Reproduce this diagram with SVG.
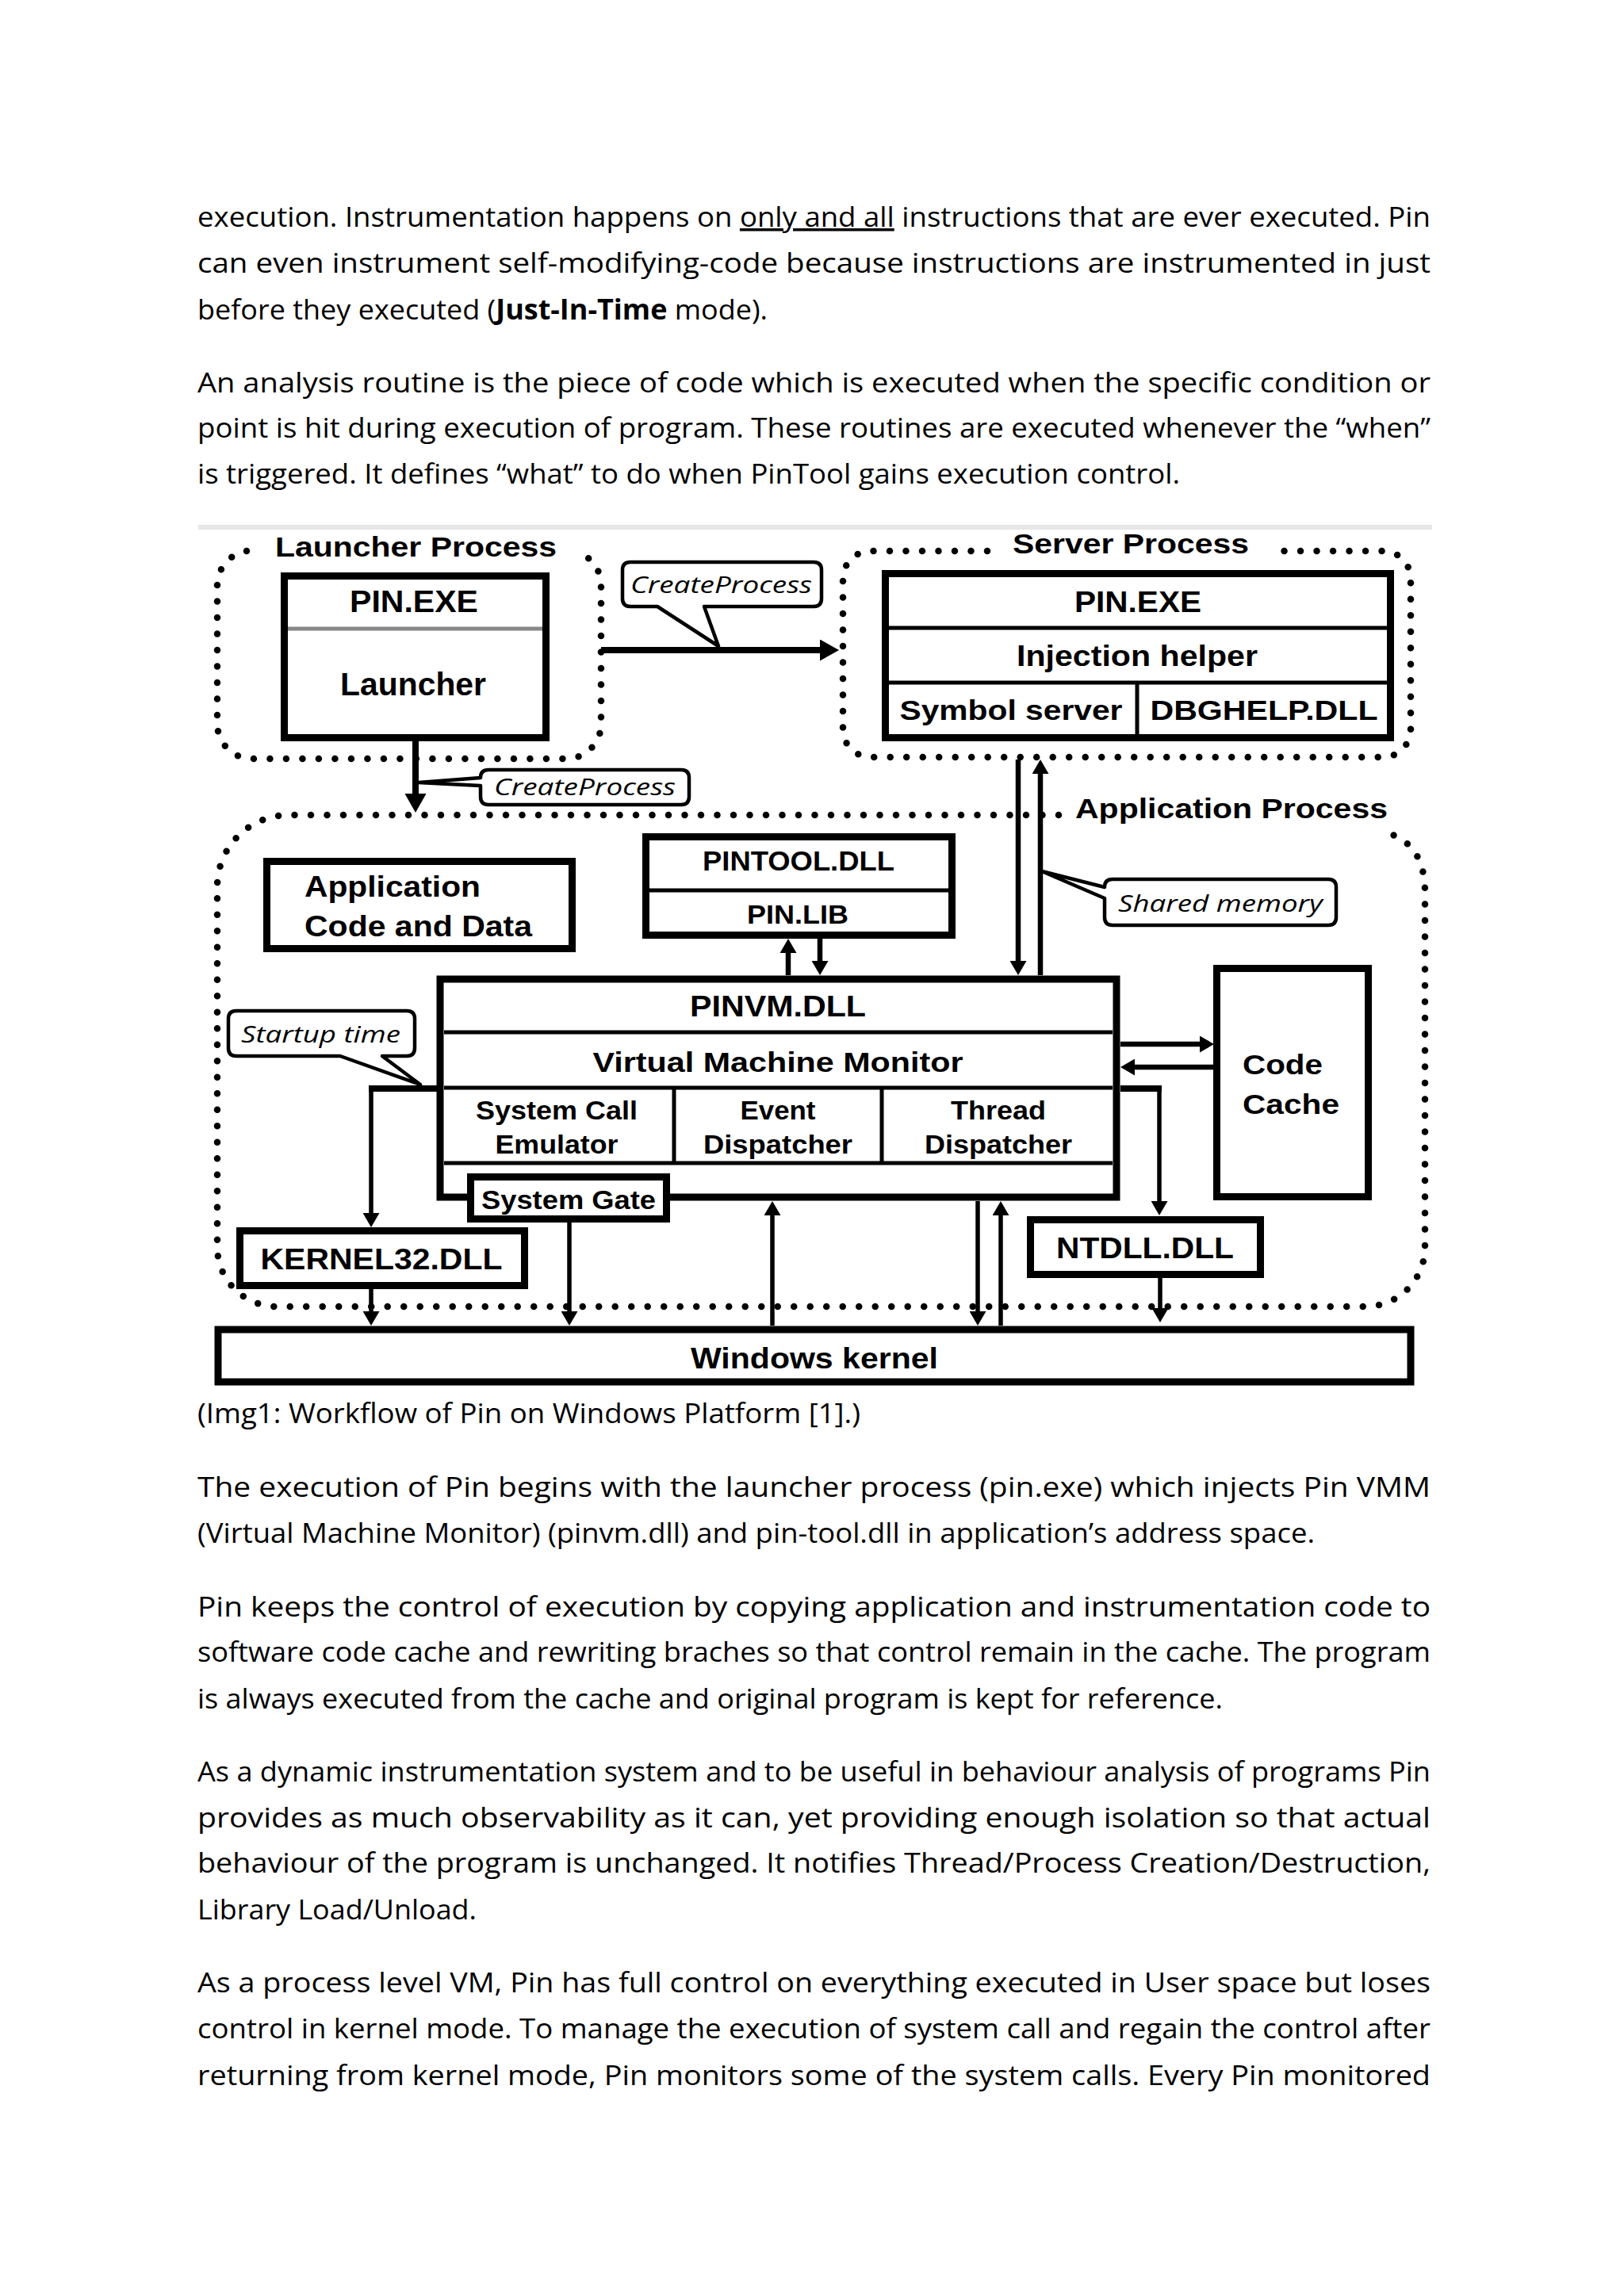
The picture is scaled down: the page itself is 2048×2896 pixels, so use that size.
<svg xmlns="http://www.w3.org/2000/svg" width="2048" height="2896" viewBox="0 0 2048 2896">
<defs>
<style>
.body{font-family:"Open Sans","Liberation Sans",sans-serif;font-size:35px;fill:#000}
.lbl{font-family:"Liberation Sans",Arial,sans-serif;font-weight:bold;fill:#000}
.call{font-family:"Open Sans","Liberation Sans",sans-serif;font-style:italic;font-size:29px;fill:#000}
.box{fill:#fff;stroke:#000;stroke-width:9}
.dv{stroke:#000;stroke-width:5;fill:none}
.dots{fill:none;stroke:#000;stroke-width:8.5;stroke-dasharray:0 20.5;stroke-linecap:round}
.cbox{fill:#fff;stroke:#000;stroke-width:4.5;stroke-linejoin:round}
.c{stroke:#000;fill:none;stroke-width:5.5}
.c6{stroke:#000;fill:none;stroke-width:6.5}
.c8{stroke:#000;fill:none;stroke-width:8}
</style>
<marker id="ah" markerUnits="userSpaceOnUse" markerWidth="18" markerHeight="21" viewBox="0 0 18 21" refX="10" refY="10.5" orient="auto"><path d="M0,0 L18,10.5 L0,21 Z" fill="#000"/></marker>
<marker id="ahb" markerUnits="userSpaceOnUse" markerWidth="24" markerHeight="27" viewBox="0 0 24 27" refX="14" refY="13.5" orient="auto"><path d="M0,0 L24,13.5 L0,27 Z" fill="#000"/></marker>
</defs>
<rect width="2048" height="2896" fill="#fff"/>

<g id="body-text-top">
<text class="body" x="249" y="286" textLength="1555" lengthAdjust="spacingAndGlyphs">execution. Instrumentation happens on <tspan text-decoration="underline">only and all</tspan> instructions that are ever executed. Pin</text>
<text class="body" x="249" y="344" textLength="1555" lengthAdjust="spacingAndGlyphs">can even instrument self-modifying-code because instructions are instrumented in just</text>
<text class="body" x="249" y="403" textLength="719" lengthAdjust="spacingAndGlyphs">before they executed (<tspan font-weight="bold">Just-In-Time</tspan> mode).</text>
<text class="body" x="249" y="495" textLength="1555" lengthAdjust="spacingAndGlyphs">An analysis routine is the piece of code which is executed when the specific condition or</text>
<text class="body" x="249" y="552" textLength="1555" lengthAdjust="spacingAndGlyphs">point is hit during execution of program.  These routines are executed whenever the “when”</text>
<text class="body" x="249" y="610" textLength="1239" lengthAdjust="spacingAndGlyphs">is triggered. It defines “what” to do when PinTool gains execution control.</text>
</g>

<line x1="250" y1="665" x2="1806" y2="665" stroke="#e6e6e6" stroke-width="6"/>

<g id="launcher-process">
<path class="dots" d="M311,695 A44,44 0 0 0 274,739 L274,913 A44,44 0 0 0 318,957 L714,957 A44,44 0 0 0 758,913 L758,739 A44,44 0 0 0 730,697"/>
<text class="lbl" x="347" y="702" font-size="35" textLength="355" lengthAdjust="spacingAndGlyphs">Launcher Process</text>
</g>
<g id="server-process">
<path class="dots" d="M1245,695 L1098,695 A35,35 0 0 0 1063,730 L1063,920 A35,35 0 0 0 1098,955 L1744,955 A35,35 0 0 0 1779,920 L1779,730 A35,35 0 0 0 1744,695 L1609,695"/>
<text class="lbl" x="1277" y="698" font-size="35" textLength="298" lengthAdjust="spacingAndGlyphs">Server Process</text>
</g>
<g id="application-process">
<path class="dots" d="M1335,1028 L364,1028 A90,90 0 0 0 274,1118 L274,1573 A75,75 0 0 0 349,1648 L1722,1648 A75,75 0 0 0 1797,1573 L1797,1125 Q1797,1068 1754,1052"/>
<text class="lbl" x="1356" y="1032" font-size="35" textLength="394" lengthAdjust="spacingAndGlyphs">Application Process</text>
</g>

<g id="connectors">
<line class="c8" x1="758" y1="820" x2="1048" y2="820" marker-end="url(#ahb)"/>
<line class="c8" x1="524" y1="935" x2="524" y2="1015" marker-end="url(#ahb)"/>
<line class="c6" x1="1284" y1="958" x2="1284" y2="1222" marker-end="url(#ah)"/>
<line class="c6" x1="1312" y1="1230" x2="1312" y2="966" marker-end="url(#ah)"/>
<line class="c6" x1="994" y1="1230" x2="994" y2="1192" marker-end="url(#ah)"/>
<line class="c6" x1="1034" y1="1184" x2="1034" y2="1222" marker-end="url(#ah)"/>
<line class="c6" x1="1413" y1="1317" x2="1523" y2="1317" marker-end="url(#ah)"/>
<line class="c6" x1="1531" y1="1346" x2="1421" y2="1346" marker-end="url(#ah)"/>
<line class="c8" x1="551" y1="1373" x2="465" y2="1373"/>
<line class="c" x1="468" y1="1370" x2="468" y2="1540" marker-end="url(#ah)"/>
<line class="c8" x1="1413" y1="1373" x2="1465" y2="1373"/>
<line class="c" x1="1462" y1="1370" x2="1462" y2="1525" marker-end="url(#ah)"/>
<line class="c" x1="468" y1="1626" x2="468" y2="1664" marker-end="url(#ah)"/>
<line class="c" x1="718" y1="1540" x2="718" y2="1664" marker-end="url(#ah)"/>
<line class="c" x1="718" y1="1467" x2="718" y2="1484"/>
<line class="c" x1="974" y1="1672" x2="974" y2="1523" marker-end="url(#ah)"/>
<line class="c" x1="1233" y1="1515" x2="1233" y2="1664" marker-end="url(#ah)"/>
<line class="c" x1="1262" y1="1672" x2="1262" y2="1523" marker-end="url(#ah)"/>
<line class="c" x1="1463" y1="1612" x2="1463" y2="1660" marker-end="url(#ah)"/>
</g>

<g id="launcher-pin-exe">
<rect class="box" x="358.5" y="726.5" width="330" height="204"/>
<line x1="363" y1="793" x2="684" y2="793" stroke="#888" stroke-width="5"/>
<text class="lbl" x="522" y="772" font-size="38" text-anchor="middle" textLength="162" lengthAdjust="spacingAndGlyphs">PIN.EXE</text>
<text class="lbl" x="521" y="877" font-size="40" text-anchor="middle" textLength="184" lengthAdjust="spacingAndGlyphs">Launcher</text>
</g>

<g id="server-pin-exe">
<rect class="box" x="1116.5" y="723.5" width="637" height="207"/>
<line class="dv" x1="1121" y1="792" x2="1749" y2="792"/>
<line class="dv" x1="1121" y1="861" x2="1749" y2="861"/>
<line class="dv" x1="1434" y1="861" x2="1434" y2="931"/>
<text class="lbl" x="1435" y="772" font-size="37" text-anchor="middle" textLength="160" lengthAdjust="spacingAndGlyphs">PIN.EXE</text>
<text class="lbl" x="1434" y="840" font-size="37" text-anchor="middle" textLength="304" lengthAdjust="spacingAndGlyphs">Injection helper</text>
<text class="lbl" x="1275" y="908" font-size="35" text-anchor="middle" textLength="281" lengthAdjust="spacingAndGlyphs">Symbol server</text>
<text class="lbl" x="1594" y="908" font-size="35" text-anchor="middle" textLength="287" lengthAdjust="spacingAndGlyphs">DBGHELP.DLL</text>
</g>

<g id="app-code-data">
<rect class="box" x="336.5" y="1086.5" width="385" height="110"/>
<text class="lbl" x="384" y="1131" font-size="37" textLength="222" lengthAdjust="spacingAndGlyphs">Application</text>
<text class="lbl" x="384" y="1181" font-size="36" textLength="287" lengthAdjust="spacingAndGlyphs">Code and Data</text>
</g>

<g id="pintool">
<rect class="box" x="814.5" y="1055.5" width="386" height="124"/>
<line class="dv" x1="819" y1="1123" x2="1196" y2="1123"/>
<text class="lbl" x="1007" y="1098" font-size="35" text-anchor="middle" textLength="242" lengthAdjust="spacingAndGlyphs">PINTOOL.DLL</text>
<text class="lbl" x="1006" y="1165" font-size="33" text-anchor="middle" textLength="128" lengthAdjust="spacingAndGlyphs">PIN.LIB</text>
</g>

<g id="pinvm">
<rect class="box" x="555" y="1235" width="853" height="275" stroke-width="10"/>
<line class="dv" x1="560" y1="1302" x2="1403" y2="1302"/>
<line class="dv" x1="560" y1="1372" x2="1403" y2="1372" stroke-width="6"/>
<line class="dv" x1="560" y1="1467" x2="1403" y2="1467"/>
<line class="dv" x1="850" y1="1372" x2="850" y2="1467"/>
<line class="dv" x1="1112" y1="1372" x2="1112" y2="1467"/>
<text class="lbl" x="981" y="1282" font-size="37" text-anchor="middle" textLength="222" lengthAdjust="spacingAndGlyphs">PINVM.DLL</text>
<text class="lbl" x="981" y="1352" font-size="35" text-anchor="middle" textLength="467" lengthAdjust="spacingAndGlyphs">Virtual Machine Monitor</text>
<text class="lbl" x="702" y="1412" font-size="33" text-anchor="middle" textLength="204" lengthAdjust="spacingAndGlyphs">System Call</text>
<text class="lbl" x="702" y="1455" font-size="33" text-anchor="middle" textLength="155" lengthAdjust="spacingAndGlyphs">Emulator</text>
<text class="lbl" x="981" y="1412" font-size="33" text-anchor="middle" textLength="95" lengthAdjust="spacingAndGlyphs">Event</text>
<text class="lbl" x="981" y="1455" font-size="33" text-anchor="middle" textLength="188" lengthAdjust="spacingAndGlyphs">Dispatcher</text>
<text class="lbl" x="1259" y="1412" font-size="33" text-anchor="middle" textLength="120" lengthAdjust="spacingAndGlyphs">Thread</text>
<text class="lbl" x="1259" y="1455" font-size="33" text-anchor="middle" textLength="186" lengthAdjust="spacingAndGlyphs">Dispatcher</text>
</g>

<g id="system-gate">
<rect class="box" x="593.5" y="1484.5" width="247" height="53" stroke-width="5"/>
<text class="lbl" x="717" y="1525" font-size="33" text-anchor="middle" textLength="220" lengthAdjust="spacingAndGlyphs">System Gate</text>
</g>

<g id="code-cache">
<rect class="box" x="1534.5" y="1221.5" width="191" height="288"/>
<text class="lbl" x="1567" y="1355" font-size="35" textLength="101" lengthAdjust="spacingAndGlyphs">Code</text>
<text class="lbl" x="1567" y="1405" font-size="35" textLength="122" lengthAdjust="spacingAndGlyphs">Cache</text>
</g>

<g id="kernel32">
<rect class="box" x="302.5" y="1552.5" width="359" height="69"/>
<text class="lbl" x="481" y="1601" font-size="36" text-anchor="middle" textLength="305" lengthAdjust="spacingAndGlyphs">KERNEL32.DLL</text>
</g>

<g id="ntdll">
<rect class="box" x="1299.5" y="1538.5" width="290" height="69"/>
<text class="lbl" x="1444" y="1587" font-size="37" text-anchor="middle" textLength="224" lengthAdjust="spacingAndGlyphs">NTDLL.DLL</text>
</g>

<g id="windows-kernel">
<rect class="box" x="275" y="1677" width="1504" height="66" stroke-width="10"/>
<text class="lbl" x="1027" y="1726" font-size="37" text-anchor="middle" textLength="312" lengthAdjust="spacingAndGlyphs">Windows kernel</text>
</g>

<g id="callout-createprocess-1">
<path class="cbox" d="M795,709 H1026 Q1036,709 1036,719 V755 Q1036,765 1026,765 H888 L906,815 L829,765 H795 Q785,765 785,755 V719 Q785,709 795,709 Z"/>
<text class="call" x="795" y="748" textLength="229" lengthAdjust="spacingAndGlyphs">CreateProcess</text>
</g>
<g id="callout-createprocess-2">
<path class="cbox" d="M616,971 H859 Q869,971 869,981 V1005 Q869,1015 859,1015 H616 Q606,1015 606,1005 V991 L528,987 L606,981 Q606,971 616,971 Z"/>
<text class="call" x="623" y="1003" textLength="229" lengthAdjust="spacingAndGlyphs">CreateProcess</text>
</g>
<g id="callout-startup-time">
<path class="cbox" d="M298,1275 H513 Q523,1275 523,1285 V1322 Q523,1332 513,1332 H482 L530,1368 L429,1332 H298 Q288,1332 288,1322 V1285 Q288,1275 298,1275 Z"/>
<text class="call" x="304" y="1315" textLength="201" lengthAdjust="spacingAndGlyphs">Startup time</text>
</g>
<g id="callout-shared-memory">
<path class="cbox" d="M1403,1109 H1675 Q1685,1109 1685,1119 V1157 Q1685,1167 1675,1167 H1403 Q1393,1167 1393,1157 V1133 L1314,1099 L1393,1119 Q1393,1109 1403,1109 Z"/>
<text class="call" x="1410" y="1150" textLength="258" lengthAdjust="spacingAndGlyphs">Shared memory</text>
</g>

<g id="body-text-bottom">
<text class="body" x="249" y="1795" textLength="836" lengthAdjust="spacingAndGlyphs">(Img1: Workflow of Pin on Windows Platform [1].)</text>
<text class="body" x="249" y="1888" textLength="1555" lengthAdjust="spacingAndGlyphs">The execution of Pin begins with the launcher process (pin.exe) which injects Pin VMM</text>
<text class="body" x="249" y="1946" textLength="1409" lengthAdjust="spacingAndGlyphs">(Virtual Machine Monitor) (pinvm.dll) and pin-tool.dll in application’s address space.</text>
<text class="body" x="249" y="2039" textLength="1555" lengthAdjust="spacingAndGlyphs">Pin keeps the control of execution by copying application and instrumentation code to</text>
<text class="body" x="249" y="2096" textLength="1555" lengthAdjust="spacingAndGlyphs">software code cache and rewriting braches so that control remain in the cache. The program</text>
<text class="body" x="249" y="2155" textLength="1293" lengthAdjust="spacingAndGlyphs">is always executed from the cache and original program is kept for reference.</text>
<text class="body" x="249" y="2247" textLength="1555" lengthAdjust="spacingAndGlyphs">As a dynamic instrumentation system and to be useful in behaviour analysis of programs Pin</text>
<text class="body" x="249" y="2305" textLength="1555" lengthAdjust="spacingAndGlyphs">provides as much observability as it can, yet providing enough isolation so that actual</text>
<text class="body" x="249" y="2362" textLength="1555" lengthAdjust="spacingAndGlyphs">behaviour of the program is unchanged. It notifies Thread/Process Creation/Destruction,</text>
<text class="body" x="249" y="2421" font-size="36" textLength="352" lengthAdjust="spacingAndGlyphs">Library Load/Unload.</text>
<text class="body" x="249" y="2513" textLength="1555" lengthAdjust="spacingAndGlyphs">As a process level VM, Pin has full control on everything executed in User space but loses</text>
<text class="body" x="249" y="2571" textLength="1555" lengthAdjust="spacingAndGlyphs">control in kernel mode. To manage the execution of system call and regain the control after</text>
<text class="body" x="249" y="2630" textLength="1555" lengthAdjust="spacingAndGlyphs">returning from kernel mode, Pin monitors some of the system calls. Every Pin monitored</text>
</g>
</svg>
